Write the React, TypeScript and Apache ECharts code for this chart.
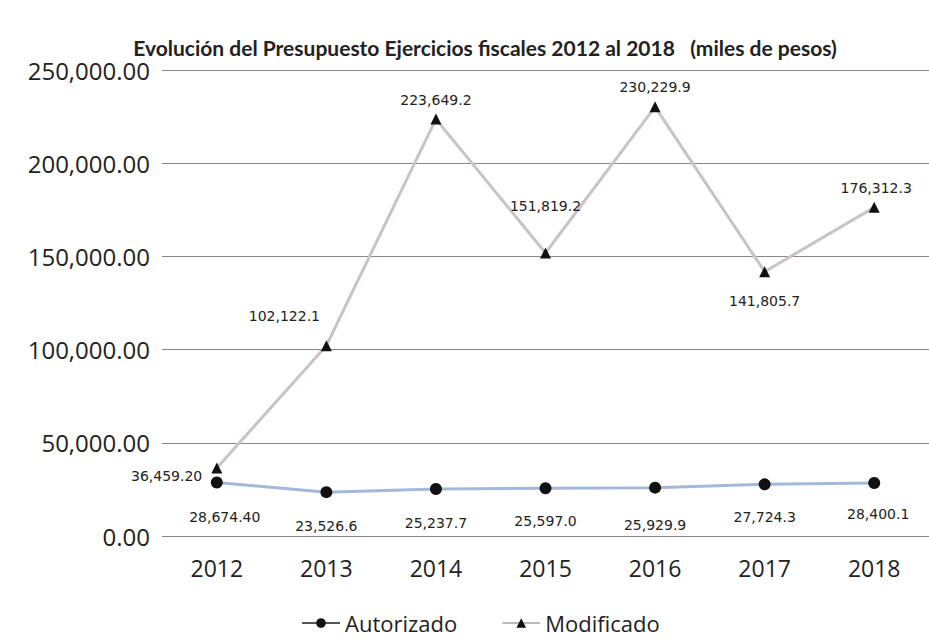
import React, { useEffect, useRef } from "react";
import * as echarts from "echarts";

const years = ["2012", "2013", "2014", "2015", "2016", "2017", "2018"];
const autorizado = [28674.4, 23526.6, 25237.7, 25597.0, 25929.9, 27724.3, 28400.1];
const modificado = [36459.2, 102122.1, 223649.2, 151819.2, 230229.9, 141805.7, 176312.3];
const autorizadoLabels = ["28,674.40", "23,526.6", "25,237.7", "25,597.0", "25,929.9", "27,724.3", "28,400.1"];
const modificadoLabels = ["36,459.20", "102,122.1", "223,649.2", "151,819.2", "230,229.9", "141,805.7", "176,312.3"];

const fmt = (v: number) =>
  v.toLocaleString("en-US", { minimumFractionDigits: 2, maximumFractionDigits: 2 });

export default function App() {
  const ref = useRef<HTMLDivElement>(null);
  useEffect(() => {
    const chart = echarts.init(ref.current!, null, { renderer: "svg" });
    const labelFont = { fontFamily: "DejaVu Sans", fontSize: 14, color: "#222" };
    const modPos: any[] = [
      { position: "left", offset: [-4, 8] },
      { position: "top", offset: [-42, -12] },
      { position: "top", offset: [0, -2] },
      { position: "top", offset: [0, -30] },
      { position: "top", offset: [0, -2] },
      { position: "bottom", offset: [0, 12] },
      { position: "top", offset: [2, -2] },
    ];
    const autOff = [[8, 16], [0, 16], [0, 16], [0, 15], [0, 19], [0, 15], [4, 13]];
    chart.setOption({
      animation: false,
      backgroundColor: "#fff",
      title: {
        text: "Evolución del Presupuesto Ejercicios fiscales 2012 al 2018   (miles de pesos)",
        left: 480,
        textAlign: "center",
        top: 32,
        textStyle: { fontFamily: "Lato", fontWeight: "bold", fontSize: 21, color: "#222" },
      },
      grid: { left: 162, top: 70, width: 770, height: 466, containLabel: false },
      xAxis: {
        type: "category",
        data: years,
        boundaryGap: true,
        axisLine: { show: false },
        axisTick: { show: false },
        axisLabel: { fontFamily: "Open Sans", fontSize: 23, color: "#222", margin: 20 },
      },
      yAxis: {
        type: "value",
        min: 0,
        max: 250000,
        interval: 50000,
        axisLine: { show: false },
        axisTick: { show: false },
        splitLine: { lineStyle: { color: "#888", width: 1 } },
        axisLabel: {
          fontFamily: "Open Sans",
          fontSize: 24,
          color: "#222",
          margin: 12,
          formatter: (v: number) => fmt(v),
        },
      },
      legend: {
        bottom: 0,
        left: 296,
        itemWidth: 38,
        itemHeight: 12,
        itemGap: 44,
        textStyle: { fontFamily: "Open Sans", fontSize: 22, color: "#222" },
        data: [
          { name: "Autorizado", itemStyle: { color: "#111" }, lineStyle: { color: "#555" } },
          { name: "Modificado", itemStyle: { color: "#111" }, lineStyle: { color: "#bbb" } },
        ],
      },
      series: [
        {
          name: "Modificado",
          type: "line",
          data: modificado.map((v, i) => ({
            value: v,
            label: { show: true, formatter: modificadoLabels[i], ...labelFont, ...modPos[i] },
          })),
          symbol: "triangle",
          symbolSize: 11,
          lineStyle: { color: "#cbc2c3", width: 3 },
          itemStyle: { color: "#111" },
          z: 2,
        },
        {
          name: "Autorizado",
          type: "line",
          data: autorizado.map((v, i) => ({
            value: v,
            label: {
              show: true,
              formatter: autorizadoLabels[i],
              position: "bottom",
              offset: autOff[i],
              ...labelFont,
            },
          })),
          symbol: "circle",
          symbolSize: 12,
          lineStyle: { color: "#a3b9d9", width: 3 },
          itemStyle: { color: "#111" },
          z: 3,
        },
      ],
    });
    return () => chart.dispose();
  }, []);
  return <div ref={ref} style={{ width: 929, height: 639, position: "absolute", left: 0, top: 0 }} />;
}
